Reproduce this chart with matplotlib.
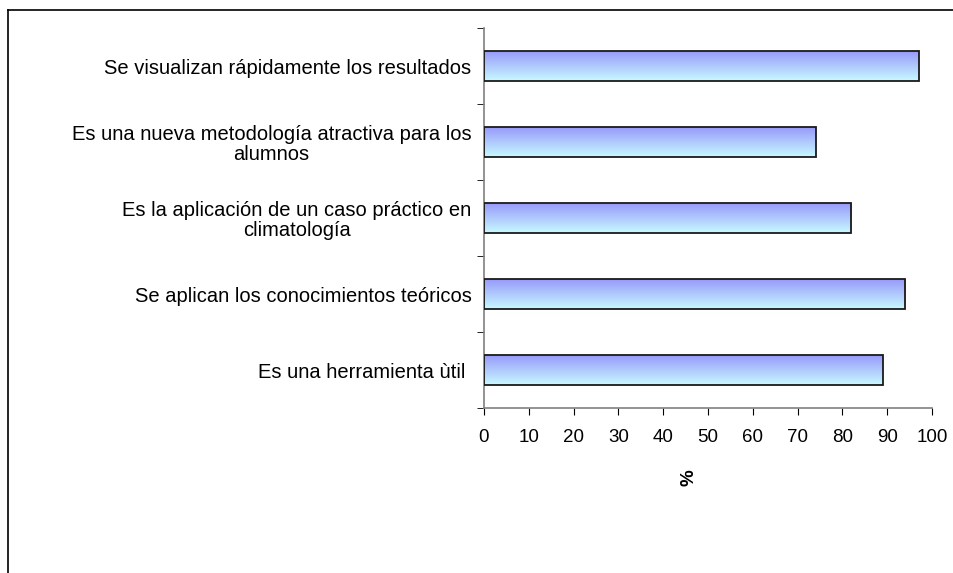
import matplotlib
matplotlib.use("Agg")
import matplotlib.pyplot as plt
import numpy as np
from matplotlib.patches import Rectangle
from matplotlib.lines import Line2D

plt.rcParams['font.family'] = ['Liberation Sans', 'DejaVu Sans']

categories = [
    "Es una herramienta ùtil ",
    "Se aplican los conocimientos teóricos",
    "Es la aplicación de un caso práctico en\nclimatología",
    "Es una nueva metodología atractiva para los\nalumnos",
    "Se visualizan rápidamente los resultados",
]
values = [89, 94, 82, 74, 97]
xticks = [0, 10, 20, 30, 40, 50, 60, 70, 80, 90, 100]
xlabel = "%"

fig = plt.figure(figsize=(9.54, 5.73), dpi=100)
ax = fig.add_axes([484/954, (573-408)/573, 448/954, 380/573])

# figure frame (left and top visible)
fig.add_artist(Line2D([8/954, 8/954], [0, 1 - 10/573], color='black', lw=1.2, transform=fig.transFigure))
fig.add_artist(Line2D([8/954, 1], [1 - 10/573, 1 - 10/573], color='black', lw=1.2, transform=fig.transFigure))

y = np.arange(len(categories))
height = 0.4
grad = np.linspace(0, 1, 256).reshape(-1, 1)
top = np.array([150, 150, 250]) / 255
bot = np.array([200, 250, 255]) / 255
img = (bot[None, None, :] * (1 - grad[..., None]) + top[None, None, :] * grad[..., None])

for yi, v in zip(y, values):
    rect = Rectangle((0, yi - height / 2), v, height, facecolor='none',
                     edgecolor='#1a1a1a', lw=1.3, zorder=3)
    ax.add_patch(rect)
    im = ax.imshow(img, extent=[0, v, yi - height / 2, yi + height / 2],
                   origin='lower', aspect='auto', zorder=2, interpolation='bilinear')
    im.set_clip_path(rect)

ax.set_xlim(0, 100)
ax.set_ylim(-0.5, len(categories) - 0.5)
ax.set_xticks(xticks)
ax.set_xticklabels([str(t) for t in xticks], fontsize=13.5)
ax.set_yticks(y)
labs = ax.set_yticklabels(categories, fontsize=14.5, ha='right', multialignment='center')
for l in labs:
    l.set_linespacing(1.08)
ax.tick_params(axis='y', length=0, pad=9)
ax.set_yticks(np.arange(-0.5, len(categories), 1.0), minor=True)
ax.tick_params(axis='y', which='minor', length=5, direction='out', color='black')
ax.tick_params(axis='x', length=5, direction='out', color='black', pad=10)

for s in ['top', 'right']:
    ax.spines[s].set_visible(False)
for s in ['left', 'bottom']:
    ax.spines[s].set_color('#808080')
    ax.spines[s].set_linewidth(1.2)

fig.text(689/954, 1 - 478/573, xlabel, rotation=90, fontsize=13.5, fontweight='bold',
         ha='center', va='center')

fig.savefig("out.png", dpi=100)
